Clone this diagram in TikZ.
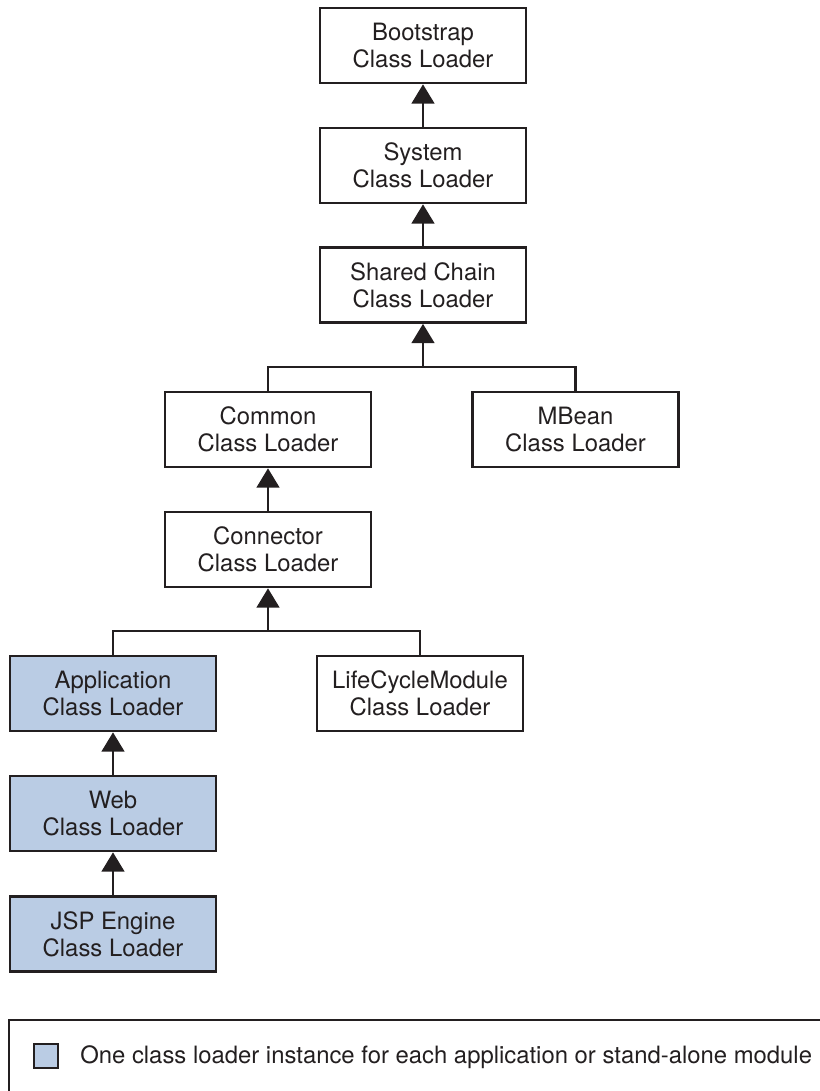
\documentclass[tikz,border=0pt]{standalone}
\usepackage{fontspec}
\setmainfont{TeX Gyre Heros}
\usetikzlibrary{arrows.meta}
\definecolor{appblue}{RGB}{186,204,228}
\definecolor{ink}{RGB}{35,31,32}
\tikzset{
  loader/.style={draw=ink, line width=2pt, minimum width=154.5pt, minimum height=56.25pt,
    inner sep=0pt, align=center, text=ink, font=\fontsize{17.9}{20.25}\selectfont},
  app/.style={loader, fill=appblue},
  up/.style={draw=ink, line width=2pt, -{Triangle[width=17pt,length=14.5pt]}},
  link/.style={draw=ink, line width=2pt}
}
\begin{document}
\begin{tikzpicture}[x=0.75pt,y=-0.75pt]
   \useasboundingbox (0,0) rectangle (820,1091);

   \node[loader] (boot)   at (423,45.5)  {Bootstrap\\Class Loader};
   \node[loader] (sys)    at (423,165.5) {System\\Class Loader};
   \node[loader] (shared) at (423,285)   {Shared Chain\\Class Loader};
   \node[loader] (common) at (268,429.5) {Common\\Class Loader};
   \node[loader] (mbean)  at (575.5,429.5) {MBean\\Class Loader};
   \node[loader] (conn)   at (268,549.5) {Connector\\Class Loader};
   \node[app]    (appl)   at (113,693.5) {Application\\Class Loader};
   \node[loader] (life)   at (420,693.5) {LifeCycleModule\\Class Loader};
   \node[app]    (web)    at (113,813.5) {Web\\Class Loader};
   \node[app]    (jsp)    at (113,934)   {JSP Engine\\Class Loader};

   \coordinate (fork1) at (423,367);
   \coordinate (fork2) at (268,631);

   \path[up] (sys) -- (boot);
   \path[up] (shared) -- (sys);
   \path[up] (fork1) -- (shared);
   \path[link] (common.north) |- (fork1) -| (mbean.north);
   \path[up] (conn) -- (common);
   \path[up] (fork2) -- (conn);
   \path[link] (appl.north) |- (fork2) -| (life.north);
   \path[up] (web) -- (appl);
   \path[up] (jsp) -- (web);

   % legend
   \path[link] (9,1091) -- (9,1020) -- (820,1020);
   \node[draw=ink, line width=2pt, fill=appblue, minimum size=18pt, inner sep=0pt] (key) at (46,1056) {};
   \node[anchor=west, inner sep=0pt, text=ink, font=\fontsize{17.9}{20.25}\selectfont] (keytext) at (80,1057)
     {One class loader instance for each application or stand-alone module};
\end{tikzpicture}
\end{document}
